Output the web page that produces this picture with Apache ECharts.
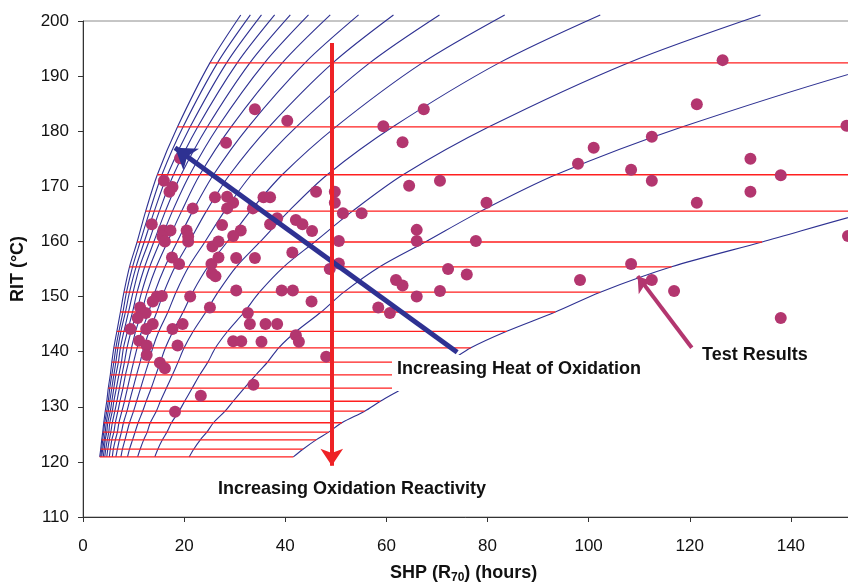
<!DOCTYPE html>
<html>
<head>
<meta charset="utf-8">
<title>RIT vs SHP</title>
<script src="https://cdn.jsdelivr.net/npm/echarts@6/dist/echarts.min.js"></script>
<style>
  html, body { margin: 0; padding: 0; background: #fff; }
  #chart { width: 848px; height: 582px; }
</style>
</head>
<body>
<div id="chart"></div>
<script>
// RIT (°C) of every grid row: one red line per row, last row is where the blue curves stop
var ritLevels = [120.9, 122.3, 124.0, 125.4, 127.1, 129.2, 131.0, 133.4, 135.8, 138.1,
  140.7, 143.7, 147.2, 150.8, 155.4, 159.9, 165.5, 172.1, 180.8, 192.4, 201.1];

// SHP (hours) of each heat-of-oxidation curve at the RIT levels above
var heatCurves = [
  [3.3, 3.5, 3.7, 3.9, 4.1, 4.4, 4.7, 5.0, 5.4, 5.7, 6.1, 6.7, 7.4, 8.1, 9.2, 10.7, 12.4, 14.7, 18.7, 25.1, 31.2],
  [3.5, 3.7, 3.9, 4.1, 4.3, 4.7, 5.0, 5.3, 5.7, 6.1, 6.5, 7.1, 7.9, 8.6, 9.8, 11.3, 13.2, 15.6, 19.8, 26.6, 33.1],
  [3.7, 3.9, 4.2, 4.4, 4.6, 5.0, 5.3, 5.7, 6.1, 6.5, 6.9, 7.5, 8.4, 9.2, 10.5, 12.1, 14.1, 16.7, 21.2, 28.4, 35.3],
  [4.0, 4.2, 4.4, 4.7, 4.9, 5.4, 5.7, 6.1, 6.5, 7.0, 7.4, 8.1, 9.0, 9.9, 11.2, 13.0, 15.1, 17.9, 22.7, 30.5, 37.9],
  [4.3, 4.5, 4.8, 5.1, 5.3, 5.8, 6.1, 6.6, 7.1, 7.6, 8.0, 8.8, 9.8, 10.7, 12.2, 14.0, 16.3, 19.4, 24.6, 33.0, 41.0],
  [4.7, 4.9, 5.2, 5.5, 5.8, 6.3, 6.7, 7.2, 7.7, 8.2, 8.7, 9.5, 10.6, 11.6, 13.2, 15.2, 17.7, 21.1, 26.7, 35.9, 44.6],
  [5.2, 5.4, 5.7, 6.1, 6.4, 6.9, 7.3, 7.9, 8.4, 9.0, 9.6, 10.4, 11.6, 12.7, 14.5, 16.7, 19.5, 23.1, 29.3, 39.4, 48.9],
  [5.8, 6.0, 6.4, 6.8, 7.1, 7.7, 8.2, 8.8, 9.4, 10.0, 10.7, 11.6, 13.0, 14.2, 16.2, 18.6, 21.7, 25.8, 32.7, 43.9, 54.5],
  [6.5, 6.8, 7.2, 7.6, 8.0, 8.7, 9.2, 9.9, 10.6, 11.3, 12.0, 13.1, 14.6, 16.0, 18.2, 21.0, 24.4, 29.0, 36.8, 49.4, 61.4],
  [7.5, 7.8, 8.3, 8.7, 9.2, 10.0, 10.6, 11.4, 12.2, 13.0, 13.8, 15.0, 16.8, 18.4, 20.9, 24.1, 28.0, 33.3, 42.2, 56.7, 70.5],
  [8.8, 9.2, 9.8, 10.3, 10.9, 11.8, 12.5, 13.5, 14.4, 15.3, 16.3, 17.8, 19.8, 21.7, 24.7, 28.5, 33.1, 39.4, 50.0, 67.1, 83.4],
  [10.8, 11.3, 12.0, 12.7, 13.3, 14.5, 15.3, 16.5, 17.7, 18.8, 20.0, 21.8, 24.3, 26.7, 30.3, 35.0, 40.7, 48.3, 61.3, 82.3, 102.3],
  [14.2, 14.8, 15.7, 16.6, 17.5, 19.0, 20.1, 21.6, 23.1, 24.7, 26.2, 28.6, 31.9, 34.9, 39.7, 45.8, 53.3, 63.3, 80.3, 107.8, 134.0],
  [21.0, 21.9, 23.2, 24.5, 25.8, 28.1, 29.7, 31.9, 34.2, 36.5, 38.7, 42.2, 47.1, 51.6, 58.7, 67.7, 78.7, 93.5, 118.6, 159.3, 197.9],
  [41.6, 43.5, 46.1, 48.6, 51.2, 55.7, 58.8, 63.4, 67.8, 72.3, 76.7, 83.8, 93.4, 102.3, 116.4, 134.3, 156.1, 185.5, 235.4, 316.0, 392.7]
];

// test results [SHP hours, RIT °C]
var testResults = [
  [126.5, 192.9], [121.4, 184.9], [112.5, 179.0], [101.0, 177.0], [97.9, 174.1], [108.4, 173.0],
  [132.0, 175.0], [138.0, 172.0], [151.0, 181.0], [112.5, 171.0], [132.0, 169.0], [121.4, 167.0],
  [151.3, 161.0], [108.4, 155.9], [112.5, 153.0], [98.3, 153.0], [116.9, 151.0], [138.0, 146.1],
  [67.4, 184.0], [59.4, 180.9], [63.2, 178.0], [70.6, 171.0], [64.5, 170.1], [49.8, 169.0],
  [49.8, 167.0], [46.1, 169.0], [51.4, 165.1], [55.1, 165.1], [79.8, 167.0], [66.0, 162.1],
  [66.0, 160.1], [77.7, 160.1], [50.6, 160.1], [50.6, 156.0], [48.8, 155.0], [72.2, 155.0],
  [75.9, 154.0], [61.9, 153.0], [63.2, 152.0], [66.0, 150.0], [70.6, 151.0], [58.4, 148.0],
  [60.7, 147.0], [48.1, 139.1],
  [34.0, 184.0], [40.4, 181.9], [28.3, 177.9], [19.2, 175.1], [16.0, 171.0], [17.7, 169.9],
  [17.1, 169.0], [26.1, 168.0], [28.5, 168.1], [29.7, 167.0], [28.5, 166.0], [21.7, 166.0],
  [35.7, 168.0], [37.0, 168.0], [33.6, 166.0], [38.4, 164.2], [37.0, 163.1], [42.1, 163.9],
  [43.4, 163.1], [45.3, 161.9], [13.6, 163.1], [27.5, 163.0], [31.2, 162.0], [29.7, 161.0],
  [15.9, 162.0], [17.3, 162.0], [15.7, 160.9], [16.2, 160.0], [20.5, 162.0], [20.8, 160.9],
  [20.8, 160.0], [25.6, 159.1], [26.8, 160.0], [41.4, 158.0], [30.3, 157.0], [34.0, 157.0],
  [26.8, 157.1], [25.4, 155.9], [17.6, 157.1], [19.0, 155.9], [25.5, 154.2], [26.2, 153.7],
  [30.3, 151.1], [39.3, 151.1], [41.5, 151.1], [45.2, 149.1], [14.6, 150.0], [15.6, 150.1],
  [13.8, 149.1], [21.2, 150.0], [11.3, 148.0], [12.4, 147.0], [10.8, 146.1], [25.1, 148.0],
  [32.6, 147.0], [33.0, 145.0], [36.1, 145.0], [38.4, 145.0], [13.8, 145.0], [9.4, 144.1],
  [12.5, 144.1], [17.7, 144.1], [19.7, 145.0], [11.1, 142.0], [12.6, 141.1], [18.7, 141.1],
  [29.7, 141.9], [31.3, 141.9], [35.3, 141.8], [42.1, 143.0], [42.7, 141.8], [12.6, 139.4],
  [15.2, 138.0], [16.2, 137.0], [33.7, 134.0], [23.3, 132.0], [18.2, 129.1]
];

// annotation arrows, [from, to] in data units
var heatArrow = [[74.0, 139.9], [18.2, 177.0]];
var reactivityArrow = [[49.2, 196.0], [49.2, 119.3]];
var resultsArrow = [[120.4, 140.7], [109.7, 153.7]];

var xTicks = { min: 0, max: 160, step: 20 };
var yTicks = { min: 110, max: 200, step: 10 };

var FONT = '"Liberation Sans", Arial, sans-serif';
var chart = echarts.init(document.getElementById('chart'));

var series = [];

// blue curves
heatCurves.forEach(function (curve) {
  series.push({
    type: 'line',
    data: curve.map(function (x, i) { return [x, ritLevels[i]]; }),
    symbol: 'none',
    smooth: 0.3,
    clip: false,
    silent: true,
    z: 2,
    lineStyle: { color: '#2e3192', width: 1.1 }
  });
});

// red horizontal lines through the grid rows
for (var i = 0; i < ritLevels.length - 1; i++) {
  series.push({
    type: 'line',
    data: heatCurves.map(function (curve) { return [curve[i], ritLevels[i]]; }),
    symbol: 'none',
    clip: false,
    silent: true,
    z: 3,
    lineStyle: { color: '#ff1f1f', width: 1.3 }
  });
}

series.push({
  type: 'scatter',
  data: testResults,
  symbolSize: 12,
  clip: false,
  z: 4,
  itemStyle: { color: '#b3366f', opacity: 1 }
});

function arrow(coords, color, width, head) {
  return {
    type: 'lines',
    coordinateSystem: 'cartesian2d',
    data: [{ coords: coords }],
    symbol: ['none', 'arrow'],
    symbolSize: head,
    silent: true,
    z: 5,
    lineStyle: { color: color, width: width, opacity: 1, curveness: 0 }
  };
}
series.push(arrow(heatArrow, '#2e3192', 5, 20));
series.push(arrow(reactivityArrow, '#ee2226', 4, 17));
series.push(arrow(resultsArrow, '#b3366f', 4, 15));

var option = {
  animation: false,
  textStyle: { fontFamily: FONT },
  grid: {
    left: 83, right: -44, top: 21, bottom: 65,
    containLabel: false,
    outerBoundsMode: 'none',
    show: true,
    backgroundColor: '#fff',
    borderColor: '#8c8c8c',
    borderWidth: 1
  },
  xAxis: {
    type: 'value',
    min: xTicks.min, max: xTicks.max, interval: xTicks.step,
    axisLine: { show: true, onZero: false, lineStyle: { color: '#333', width: 1 } },
    axisTick: { show: true, inside: false, length: 5, lineStyle: { color: '#333' } },
    axisLabel: { fontSize: 17, color: '#111', margin: 21, fontFamily: FONT },
    splitLine: { show: false }
  },
  yAxis: {
    type: 'value',
    min: yTicks.min, max: yTicks.max, interval: yTicks.step,
    name: 'RIT (°C)',
    nameLocation: 'middle',
    nameRotate: 90,
    nameGap: 56,
    nameTextStyle: { fontSize: 18, fontWeight: 'bold', color: '#111', fontFamily: FONT },
    axisLine: { show: true, onZero: false, lineStyle: { color: '#333', width: 1 } },
    axisTick: { show: true, inside: false, length: 5, lineStyle: { color: '#333' } },
    axisLabel: { fontSize: 17, color: '#111', margin: 14, fontFamily: FONT },
    splitLine: { show: false }
  },
  graphic: [
    {
      // white text box, it hides the grid lines behind it
      type: 'text', left: 392, top: 355, z: 100,
      style: {
        text: 'Increasing Heat of Oxidation',
        fontSize: 18, fontWeight: 'bold', fontFamily: FONT, fill: '#111',
        backgroundColor: '#fff', padding: [5, 5, 13, 5]
      }
    },
    {
      type: 'text', left: 702, top: 346, z: 100,
      style: { text: 'Test Results', fontSize: 18, fontWeight: 'bold', fontFamily: FONT, fill: '#111' }
    },
    {
      type: 'text', left: 218, top: 480, z: 100,
      style: { text: 'Increasing Oxidation Reactivity', fontSize: 18, fontWeight: 'bold', fontFamily: FONT, fill: '#111' }
    },
    {
      type: 'text', left: 390, top: 564, z: 100,
      style: {
        text: '{a|SHP (R}{b|70}{a|) (hours)}',
        fill: '#111',
        rich: {
          a: { fontSize: 18, fontWeight: 'bold', fontFamily: FONT, lineHeight: 22, verticalAlign: 'middle' },
          b: { fontSize: 12, fontWeight: 'bold', fontFamily: FONT, lineHeight: 22, verticalAlign: 'bottom' }
        }
      }
    }
  ],
  series: series
};

chart.setOption(option);
window.addEventListener('resize', function () {
  chart.resize();
});
</script>
</body>
</html>
